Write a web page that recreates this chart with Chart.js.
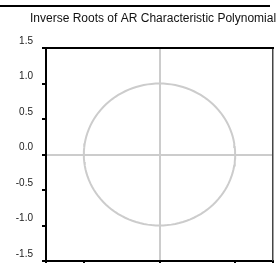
<!DOCTYPE html>
<html><head><meta charset="utf-8">
<script src="https://cdn.jsdelivr.net/npm/chart.js@4/dist/chart.umd.min.js"></script>
<style>html,body{margin:0;padding:0;background:#fff;overflow:hidden}#wrap{width:276px;height:263px;position:relative}
.ln{position:absolute;background:#000;z-index:5}</style>
</head><body><div id="wrap"><canvas id="c"></canvas><div class="ln" id="topRule" style="left:0;top:5px;width:270px;height:2px"></div><div class="ln" id="boxTop"></div></div>
<script>
const titleText = "Inverse Roots of AR Characteristic Polynomial";
const axisMin = -1.5, axisMax = 1.5, yStep = 0.5;
const xTickValues = [-1.5, -1, 0, 1, 1.5];
// AR inverse roots (none visible in the picture)
const rootsReal = [];
const rootsImag = [];
// unit-circle reference (geometry, not data)
const circleSteps = 120;
const unitCircle = [];
for (let i = 0; i <= circleSteps; i++) {
  const a = 2 * Math.PI * i / circleSteps;
  unitCircle.push({x: Math.cos(a), y: Math.sin(a)});
}
const roots = rootsReal.map((r, i) => ({x: r, y: rootsImag[i]}));

const framePlugin = {
  id: 'frame',
  afterDraw(chart) {
    const ctx = chart.ctx, a = chart.chartArea;
    ctx.save();
    ctx.fillStyle = '#444';
    ctx.fillRect(a.right - 1, a.top, 1.5, a.bottom - a.top);
    ctx.fillStyle = '#111';
    ctx.font = '12px "Liberation Sans", Arial, sans-serif';
    ctx.textBaseline = 'middle'; ctx.textAlign = 'left';
    ctx.fillText(titleText, 30, 19);
    ctx.restore();
  }
};

function grid() {
  return {
    color: c => (c.tick && c.tick.value === 0) ? '#cccccc' : 'rgba(0,0,0,0)',
    lineWidth: 2, tickColor: '#000', tickWidth: 2, tickLength: 4, drawTicks: true
  };
}

const chart = new Chart(document.getElementById('c'), {
  type: 'scatter',
  data: {datasets: [
    {data: unitCircle, showLine: true, borderColor: '#cccccc', borderWidth: 2, pointRadius: 0, fill: false, tension: 0},
    {data: roots, pointRadius: 3, backgroundColor: '#000', borderColor: '#000'}
  ]},
  options: {
    responsive: true, maintainAspectRatio: false, animation: false,
    layout: {padding: {left: 0, right: 3, top: 48, bottom: 0}},
    plugins: {legend: {display: false}, tooltip: {enabled: false}, title: {display: false}},
    scales: {
      x: {
        type: 'linear', min: axisMin, max: axisMax, grid: grid(),
        border: {color: '#000', width: 2},
        ticks: {display: false},
        afterBuildTicks(s) { s.ticks = xTickValues.map(v => ({value: v})); },
        afterFit(s) { s.height = 2; s.paddingLeft = 0; s.paddingRight = 0; }
      },
      y: {
        type: 'linear', min: axisMin, max: axisMax, grid: grid(),
        border: {color: '#000', width: 2},
        ticks: {stepSize: yStep, padding: 9, labelOffset: -7, color: '#222',
          font: {family: '"Liberation Sans", Arial, sans-serif', size: 10},
          callback: v => Number(v).toFixed(1)},
        afterFit(s) { s.width = 46; s.paddingTop = 0; s.paddingBottom = 0; }
      }
    }
  },
  plugins: [framePlugin]
});
const a = chart.chartArea;
Object.assign(document.getElementById('boxTop').style, {left: (a.left - 1) + 'px', top: (a.top - 1) + 'px', width: (a.right - a.left + 2) + 'px', height: '2px'});
</script></body></html>
